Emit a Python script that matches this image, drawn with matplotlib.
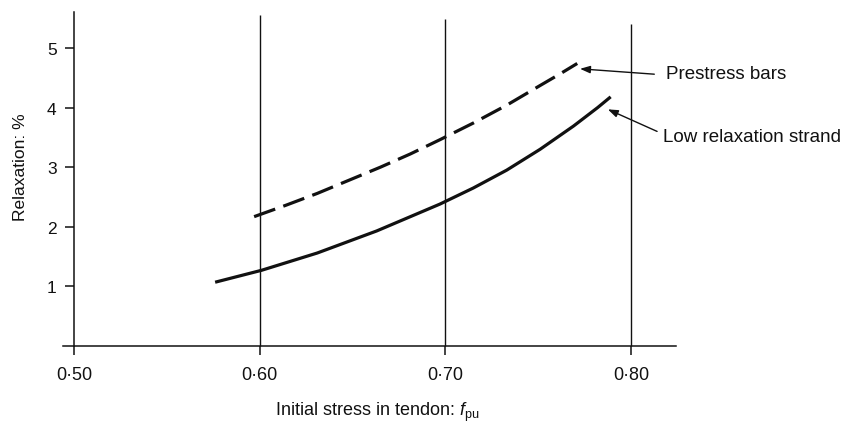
import matplotlib
matplotlib.use("Agg")
import matplotlib.pyplot as plt

# Relaxation against initial stress (fraction of f_pu)
stress_strand = [0.576, 0.601, 0.631, 0.663, 0.697, 0.715, 0.733, 0.751, 0.769, 0.782, 0.789]
relax_strand = [1.07, 1.27, 1.56, 1.93, 2.38, 2.65, 2.95, 3.30, 3.69, 4.00, 4.18]

stress_bars = [0.597, 0.614, 0.631, 0.648, 0.665, 0.681, 0.697, 0.715, 0.733, 0.751, 0.762, 0.771]
relax_bars = [2.17, 2.36, 2.56, 2.78, 3.00, 3.22, 3.46, 3.74, 4.04, 4.37, 4.57, 4.74]

x_ticks = [0.50, 0.60, 0.70, 0.80]
x_tick_labels = ["0·50", "0·60", "0·70", "0·80"]
y_ticks = [1, 2, 3, 4, 5]
y_tick_labels = ["1", "2", "3", "4", "5"]

label_bars = "Prestress bars"
label_strand = "Low relaxation strand"

plt.rcParams["font.family"] = ["Liberation Sans", "DejaVu Sans"]
plt.rcParams["mathtext.fontset"] = "custom"
plt.rcParams["mathtext.rm"] = "Liberation Sans"
plt.rcParams["mathtext.it"] = "Liberation Sans:italic"

INK = "#111111"

fig = plt.figure(figsize=(8.5, 4.35), dpi=100)
ax = fig.add_axes([0.0652, 0.1612, 0.7428, 0.829])
ax.set_xlim(0.49, 0.83)
ax.set_ylim(-0.3, 5.75)

# axes drawn as crossing lines
for side in ("top", "right"):
    ax.spines[side].set_visible(False)
ax.spines["left"].set_position(("data", 0.50))
ax.spines["bottom"].set_position(("data", 0.0))
ax.spines["left"].set_bounds(0.0, 5.6)
ax.spines["bottom"].set_bounds(0.494, 0.824)
for side in ("left", "bottom"):
    ax.spines[side].set_linewidth(1.1)
    ax.spines[side].set_color(INK)

ax.set_xticks(x_ticks)
ax.set_xticklabels(x_tick_labels, fontsize=13, color=INK)
ax.set_yticks(y_ticks)
ax.set_yticklabels(y_tick_labels, fontsize=12.5, color=INK)
ax.tick_params(axis="x", direction="out", length=6.5, width=1.1, pad=8, color=INK)
ax.tick_params(axis="y", direction="out", length=6.5, width=1.1, pad=6, color=INK)

# vertical reference lines at the stress ticks
grid_tops = [5.55, 5.49, 5.40]
ax.vlines(x_ticks[1:], 0, grid_tops, color=INK, linewidth=1.0)

ax.plot(stress_strand, relax_strand, color=INK, linewidth=2.3,
        solid_capstyle="butt", solid_joinstyle="round")
ax.plot(stress_bars, relax_bars, color=INK, linewidth=2.3,
        linestyle=(0, (7, 2.7)), dash_capstyle="butt", dash_joinstyle="round")

arrow = dict(arrowstyle="-|>,head_length=0.6,head_width=0.22",
             color=INK, linewidth=1.0, shrinkA=0, shrinkB=0,
             mutation_scale=10)
ax.annotate("", xy=(stress_bars[-1] + 0.0015, relax_bars[-1] - 0.09),
            xytext=(0.8125, 4.56), arrowprops=arrow, annotation_clip=False)
ax.annotate("", xy=(stress_strand[-1] - 0.0015, relax_strand[-1] - 0.21),
            xytext=(0.8140, 3.60), arrowprops=arrow, annotation_clip=False)
ax.text(0.8188, 4.57, label_bars, fontsize=13.5, color=INK,
        ha="left", va="center", clip_on=False)
ax.text(0.8172, 3.51, label_strand, fontsize=13.5, color=INK,
        ha="left", va="center", clip_on=False)

fig.text(20.5 / 850, 1 - 167 / 435, "Relaxation: %", rotation=90,
         fontsize=12.5, color=INK, ha="center", va="center")
fig.text(377 / 850, 1 - 412 / 435, r"Initial stress in tendon: $f_{\mathrm{pu}}$",
         fontsize=13, color=INK, ha="center", va="center")

fig.savefig("out.png", dpi=100, facecolor="white")
